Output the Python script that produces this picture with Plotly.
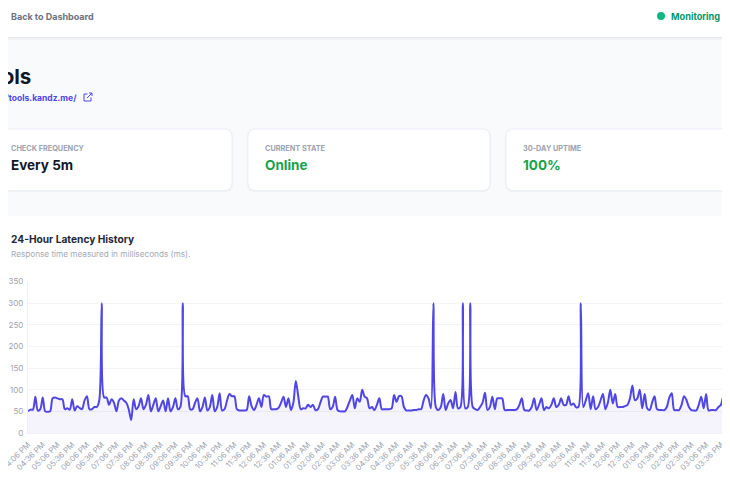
import pandas as pd
import plotly.graph_objects as go

# the page body keeps an 8px margin, so the figure covers page pixels 8..722 x 8..485
OX, OY = 8, 8
W, H = 714, 477

# 5-minute checks over the last 24 hours
start_time = "2024-06-01 16:06"
latency_ms = [
    50, 54, 54, 84, 52, 55, 82, 50, 49, 50,
    80, 82, 80, 78, 78, 55, 57, 54, 78, 52,
    62, 58, 55, 75, 85, 55, 55, 60, 60, 75,
    300, 82, 82, 65, 78, 70, 50, 75, 80, 75,
    70, 55, 30, 78, 55, 62, 80, 55, 65, 88,
    50, 65, 80, 50, 62, 75, 50, 80, 50, 60,
    80, 55, 60, 300, 85, 85, 55, 55, 70, 80,
    50, 60, 82, 52, 60, 88, 50, 60, 92, 52,
    55, 75, 90, 85, 85, 55, 52, 52, 52, 53,
    85, 62, 53, 65, 80, 60, 88, 84, 85, 55,
    55, 55, 58, 70, 84, 60, 80, 53, 70, 120,
    85, 55, 57, 57, 65, 60, 65, 53, 55, 70,
    84, 84, 84, 55, 60, 84, 53, 50, 50, 50,
    60, 75, 88, 57, 80, 72, 100, 84, 80, 57,
    60, 53, 65, 80, 55, 55, 55, 55, 57, 88,
    72, 85, 85, 60, 52, 52, 52, 53, 53, 55,
    55, 75, 88, 80, 57, 300, 60, 53, 60, 90,
    53, 68, 76, 57, 95, 57, 60, 300, 57, 60,
    300, 60, 55, 53, 60, 70, 93, 53, 60, 84,
    55, 80, 80, 80, 53, 53, 53, 53, 53, 55,
    65, 80, 53, 52, 52, 60, 80, 53, 65, 80,
    53, 60, 57, 65, 80, 60, 65, 80, 65, 65,
    85, 65, 68, 60, 60, 300, 60, 75, 92, 55,
    85, 55, 60, 75, 90, 55, 70, 100, 68, 90,
    60, 60, 60, 62, 65, 80, 110, 76, 80, 100,
    57, 90, 57, 53, 70, 85, 55, 53, 53, 53,
    60, 82, 92, 53, 53, 53, 65, 85, 76, 60,
    53, 52, 52, 65, 84, 57, 90, 52, 53, 53,
    53, 60, 65, 84, 60, 80, 62, 55,
]
y_ticks = [0, 50, 100, 150, 200, 250, 300, 350]

card_labels = ["CHECK FREQUENCY", "CURRENT STATE", "30-DAY UPTIME"]
card_values = ["Every 5m", "Online", "100%"]

times = pd.date_range(start_time, periods=len(latency_ms), freq="5min")


def px(x):
    # page pixel -> paper fraction
    return (x - OX) / W


def py(y):
    return 1 - (y - OY) / H


def rounded_rect(x0, y0, x1, y1, r):
    pts = [
        ("M", x0 + r, y0), ("L", x1 - r, y0), ("Q", x1, y0), ("", x1, y0 + r),
        ("L", x1, y1 - r), ("Q", x1, y1), ("", x1 - r, y1),
        ("L", x0 + r, y1), ("Q", x0, y1), ("", x0, y1 - r),
        ("L", x0, y0 + r), ("Q", x0, y0), ("", x0 + r, y0),
    ]
    return " ".join(f"{c} {px(x):.5f},{py(y):.5f}" for c, x, y in pts) + " Z"


fig = go.Figure()
fig.add_trace(go.Scatter(
    x=times, y=latency_ms, mode="lines",
    line=dict(color="#4f46e5", width=2, shape="spline", smoothing=0.9),
    fill="tozeroy", fillcolor="rgba(79,70,229,0.06)",
    hoverinfo="skip", showlegend=False,
))

shapes = []
# page background band
shapes.append(dict(type="rect", xref="paper", yref="paper", x0=0, x1=1,
                   y0=py(216), y1=py(38), fillcolor="#f8fafc", line_width=0, layer="below"))
shapes.append(dict(type="line", xref="paper", yref="paper", x0=0, x1=1,
                   y0=py(37.5), y1=py(37.5), line=dict(color="#e5e7eb", width=1), layer="below"))
shapes.append(dict(type="line", xref="paper", yref="paper", x0=0, x1=1,
                   y0=py(39), y1=py(39), line=dict(color="#f1f3f6", width=2), layer="below"))

# stat cards
card_x = [(-20, 232), (248, 490), (506, 760)]
for x0, x1 in card_x:
    shapes.append(dict(type="path", xref="paper", yref="paper",
                       path=rounded_rect(x0 - 1, 128.5, x1 + 1, 192, 9),
                       fillcolor="#eef1f5", line_width=0, layer="below"))
    shapes.append(dict(type="path", xref="paper", yref="paper",
                       path=rounded_rect(x0, 129, x1, 190.5, 8),
                       fillcolor="white", line=dict(color="#edf0f4", width=1), layer="below"))

# green status dot
shapes.append(dict(type="circle", xref="paper", yref="paper",
                   x0=px(657), x1=px(665), y0=py(20), y1=py(12),
                   fillcolor="#10b981", line_width=0))
# external link icon
shapes.append(dict(type="path", xref="paper", yref="paper",
                   path=f"M {px(87.5)},{py(94)} L {px(84)},{py(94)} L {px(84)},{py(101)} "
                        f"L {px(91)},{py(101)} L {px(91)},{py(97.5)}",
                   line=dict(color="#4f46e5", width=1)))
shapes.append(dict(type="path", xref="paper", yref="paper",
                   path=f"M {px(87)},{py(98)} L {px(92)},{py(93)} M {px(89)},{py(93)} "
                        f"L {px(92)},{py(93)} L {px(92)},{py(96)}",
                   line=dict(color="#4f46e5", width=1)))

font = "Inter, Roboto, sans-serif"
ann = []


def text(x, y, s, size, color, anchor="left"):
    ann.append(dict(x=px(x), y=py(y), xref="paper", yref="paper", text=s,
                    showarrow=False, xanchor=anchor, yanchor="middle",
                    font=dict(family=font, size=size, color=color)))


left_edge = 8.5
text(left_edge, 16.5, "<b>Back to Dashboard</b>", 9, "#6b7280")
text(669, 16.5, "<b>Monitoring Active</b>", 9.2, "#059669")
text(33, 77, "<b>Tools</b>", 20.5, "#111827", "right")
text(79, 97.5, "<b>https://tools.kandz.me/</b>", 8.5, "#4f46e5", "right")

value_colors = ["#111827", "#16a34a", "#16a34a"]
for (x0, _), label, value, vc in zip(card_x, card_labels, card_values, value_colors):
    lx = left_edge if x0 < 0 else x0 + 15
    text(lx, 148, "<b>" + label + "</b>", 7.3, "#9ca3af")
    text(lx, 165, "<b>" + value + "</b>", 13.5, vc)

text(left_edge, 239, "<b>24-Hour Latency History</b>", 10.2, "#1f2937")
text(left_edge, 254, "Response time measured in milliseconds (ms).", 8.2, "#a3aab5")

plot_left, plot_right = 28, OX + W
px_per_5min = 2.457
x_end = times[0] + pd.Timedelta(minutes=(plot_right - plot_left) / px_per_5min * 5)

fig.update_layout(
    width=W, height=H,
    margin=dict(l=0, r=0, t=0, b=0, pad=0),
    paper_bgcolor="white", plot_bgcolor="rgba(0,0,0,0)",
    shapes=shapes, annotations=ann,
    xaxis=dict(
        domain=[px(plot_left), 1], automargin=False,
        type="date", range=[times[0], x_end],
        tick0=times[0], dtick=30 * 60 * 1000, tickformat="%I:%M %p",
        tickangle=-45, tickfont=dict(family=font, size=7.8, color="#9ca3af"),
        ticklabeloverflow="allow",
        showgrid=False, showline=True, linecolor="#eef0f4",
        ticks="outside", ticklen=3, tickcolor="rgba(0,0,0,0)",
        fixedrange=True,
    ),
    yaxis=dict(
        domain=[py(433), py(281.5)], automargin=False,
        range=[0, 350], tickvals=y_ticks,
        tickfont=dict(family=font, size=8, color="#9ca3af"),
        showgrid=True, gridcolor="#f3f4f6", zeroline=False,
        showline=True, linecolor="#eef0f4",
        ticks="outside", ticklen=2, tickcolor="rgba(0,0,0,0)",
        fixedrange=True,
    ),
)

fig.write_html("out.html")
